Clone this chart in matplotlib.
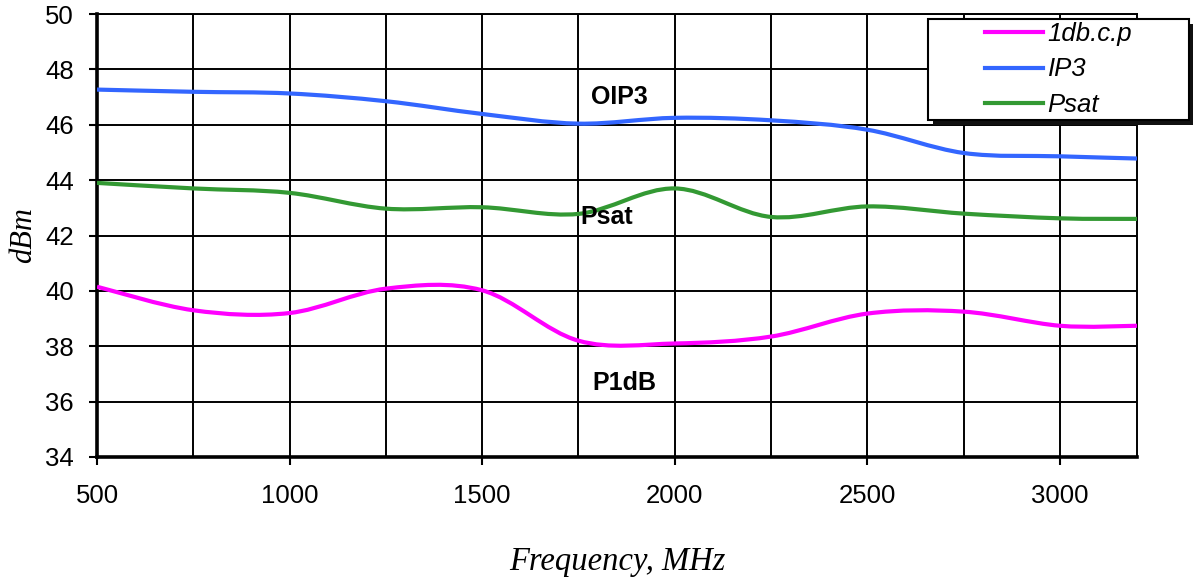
import matplotlib
matplotlib.use("Agg")
import matplotlib.pyplot as plt
import numpy as np
from matplotlib.path import Path
from matplotlib.patches import PathPatch, Rectangle
from matplotlib.lines import Line2D

# data (Excel smoothed lines)
freq = [500, 750, 1000, 1250, 1500, 1750, 2000, 2250, 2500, 2750, 3000, 3200]
p1db = [40.15, 39.3, 39.2, 40.08, 40.02, 38.2, 38.1, 38.35, 39.18, 39.25, 38.74, 38.74]
ip3 = [47.27, 47.19, 47.13, 46.85, 46.39, 46.04, 46.25, 46.16, 45.82, 44.98, 44.86, 44.78]
psat = [43.9, 43.7, 43.54, 42.97, 43.02, 42.78, 43.7, 42.67, 43.05, 42.79, 42.62, 42.6]

series_names = ['1db.c.p', 'IP3', 'Psat']
series_colors = ['#ff00ff', '#3366ff', '#339933']

x_ticks = [500, 1000, 1500, 2000, 2500, 3000]
y_ticks = [34, 36, 38, 40, 42, 44, 46, 48, 50]


def smooth_path(xs, ys):
    # bezier path like excel "smoothed line" (catmull-rom, 1/6 tension)
    pts = np.column_stack([xs, ys]).astype(float)
    ext = np.vstack([pts[0], pts, pts[-1]])
    verts = [pts[0]]
    codes = [Path.MOVETO]
    for i in range(1, len(ext) - 2):
        p0, p1, p2, p3 = ext[i - 1], ext[i], ext[i + 1], ext[i + 2]
        verts += [p1 + (p2 - p0) / 6, p2 - (p3 - p1) / 6, p2]
        codes += [Path.CURVE4] * 3
    return Path(verts, codes)


W, H = 1193, 583
fig = plt.figure(figsize=(W / 100, H / 100), dpi=100)
ax = fig.add_axes([97 / W, 1 - 457 / H, 1040 / W, 443 / H])

for ys, c in zip([p1db, ip3, psat], series_colors):
    ax.add_patch(PathPatch(smooth_path(freq, ys), fill=False, edgecolor=c,
                           lw=3, capstyle='butt', zorder=3))

ax.set_xlim(500, 3200)
ax.set_ylim(34, 50)
ax.set_xticks(x_ticks)
ax.set_xticks(np.arange(750, 3200, 500), minor=True)
ax.set_yticks(y_ticks)
ax.tick_params(axis='x', which='minor', length=0)
ax.tick_params(axis='both', which='major', direction='out', length=5.5, width=1.5,
               labelsize=18.5, colors='black')
ax.tick_params(axis='x', pad=14)
ax.tick_params(axis='y', pad=11)
for lab in ax.get_xticklabels() + ax.get_yticklabels():
    lab.set_fontfamily('Liberation Sans')

ax.grid(True, which='both', color='black', lw=1.4, zorder=1)
ax.set_axisbelow(True)
for s in ['left', 'bottom']:
    ax.spines[s].set_linewidth(2.6)
for s in ['top', 'right']:
    ax.spines[s].set_linewidth(1.4)

ax.set_ylabel('dBm', fontsize=22, style='italic', family='Liberation Serif', labelpad=5)
ax.set_xlabel('Frequency, MHz', fontsize=23.5, style='italic', family='Liberation Serif',
              labelpad=28)

ax.text(1857, 47.0, 'OIP3', fontsize=18, weight='bold', family='Liberation Sans',
        ha='center', va='center', zorder=4)
ax.text(1824, 42.67, 'Psat', fontsize=18, weight='bold', family='Liberation Sans',
        ha='center', va='center', zorder=4)
ax.text(1870, 36.68, 'P1dB', fontsize=18, weight='bold', family='Liberation Sans',
        ha='center', va='center', zorder=4)

# legend box with drop shadow, entries centred inside it
bx, by, bw, bh = 928 / W, 1 - 120 / H, 261 / W, 101 / H
fig.patches.append(Rectangle((bx + 5 / W, by - 5 / H), bw, bh, transform=fig.transFigure,
                             facecolor='#111111', edgecolor='none', zorder=4))
fig.patches.append(Rectangle((bx, by), bw, bh, transform=fig.transFigure,
                             facecolor='white', edgecolor='black', lw=1.5, zorder=4))
handles = [Line2D([], [], color=c, lw=3) for c in series_colors]
leg = fig.legend(handles, series_names, loc='center',
                 bbox_to_anchor=(bx, by, bw, bh), bbox_transform=fig.transFigure,
                 prop={'family': 'Liberation Sans', 'style': 'italic', 'size': 18.5},
                 frameon=False, handlelength=2.25, handletextpad=0.2,
                 labelspacing=0.44, borderpad=0, borderaxespad=0)
leg.set_zorder(5)

fig.savefig('out.png', dpi=100)
